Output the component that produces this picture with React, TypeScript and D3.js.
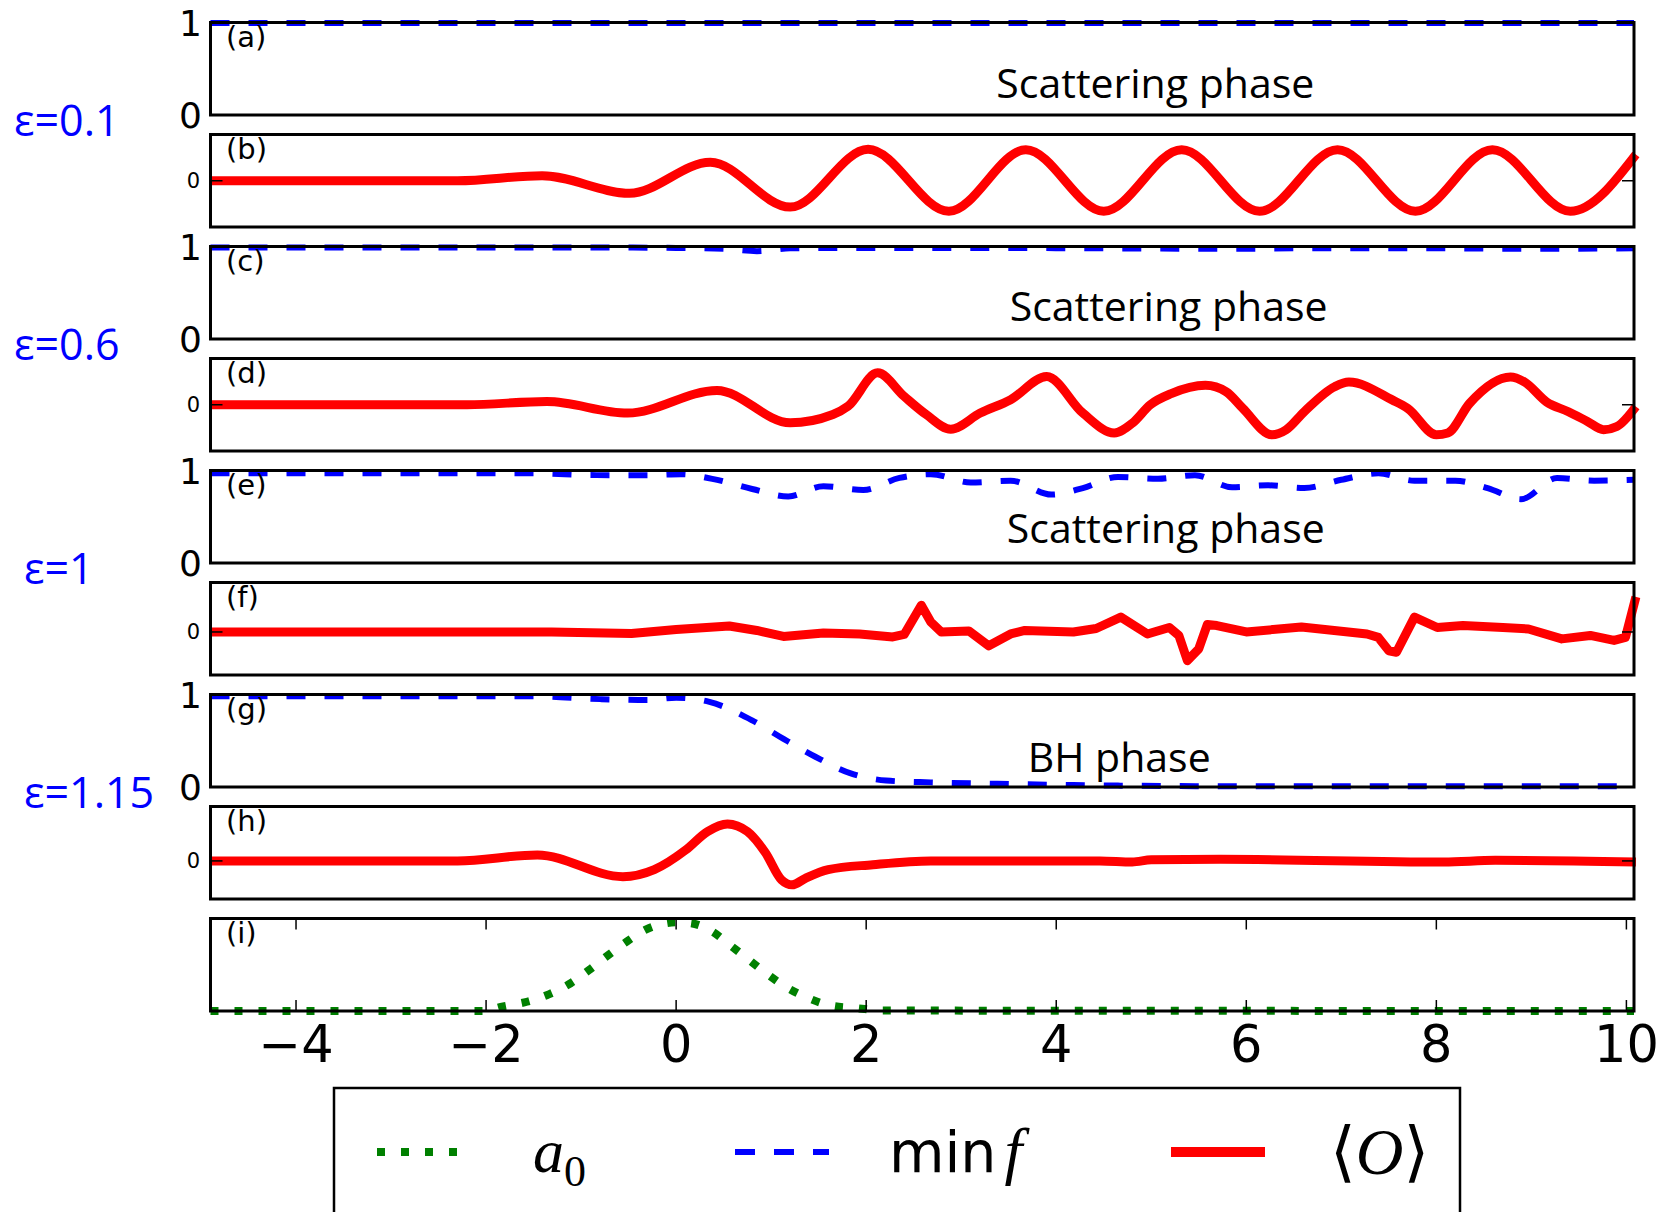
import React from "react";
import * as d3 from "d3";

// ---------- data ----------
const xDomain: [number, number] = [-4.9, 10.08];
const xTicks = [-4, -2, 0, 2, 4, 6, 8, 10];

// eps = 0.1
const minfX_01 = [-4.9, 10.08];
const minfY_01 = [0.995, 0.995];
const oX_01 = [-4.9, -2.3, -1.41, -0.49, 0.36, 1.2, 2.02, 2.87, 3.68, 4.5, 5.32, 6.14, 6.96, 7.78, 8.59, 9.41, 10.1];
const oY_01 = [0, 0, 0.11, -0.27, 0.4, -0.57, 0.68, -0.66, 0.67, -0.66, 0.67, -0.66, 0.67, -0.66, 0.67, -0.66, 0.57];

// eps = 0.6
const minfX_06 = [-4.9, -1, 0, 0.5, 0.85, 1.2, 1.8, 3, 4.5, 5.8, 6.5, 8, 9, 10.08];
const minfY_06 = [0.99, 0.99, 0.985, 0.975, 0.95, 0.98, 0.985, 0.985, 0.98, 0.975, 0.98, 0.98, 0.975, 0.98];
const oX_06 = [-4.9, -2.2, -1.36, -0.51, 0.43, 1.2, 1.65, 1.81, 2.12, 2.4, 2.63, 2.89, 3.2, 3.52, 3.9, 4.28, 4.61, 4.8, 4.99, 5.21, 5.57, 5.79, 5.96, 6.27, 6.42, 6.61, 6.93, 7.08, 7.54, 7.7, 8.0, 8.12, 8.35, 8.78, 8.93, 9.16, 9.39, 9.59, 9.76, 9.9, 10.1];
const oY_06 = [0, 0, 0.07, -0.18, 0.31, -0.39, -0.21, -0.03, 0.69, 0.18, -0.21, -0.53, -0.18, 0.11, 0.61, -0.18, -0.61, -0.4, 0, 0.24, 0.42, 0.28, -0.07, -0.65, -0.54, -0.15, 0.39, 0.49, 0.1, -0.08, -0.65, -0.61, 0.03, 0.6, 0.49, 0.06, -0.15, -0.36, -0.54, -0.47, -0.04];

// eps = 1
const minfX_1 = [-4.9, -1.5, -0.84, -0.28, 0.05, 0.38, 0.8, 1.18, 1.55, 1.97, 2.35, 2.68, 3.1, 3.52, 3.95, 4.28, 4.65, 5.07, 5.46, 5.85, 6.23, 6.61, 7.0, 7.39, 7.77, 8.2, 8.54, 8.89, 9.27, 9.66, 10.08];
const minfY_1 = [0.97, 0.97, 0.95, 0.95, 0.96, 0.91, 0.8, 0.72, 0.83, 0.79, 0.92, 0.96, 0.87, 0.89, 0.74, 0.81, 0.93, 0.91, 0.95, 0.82, 0.84, 0.81, 0.9, 0.97, 0.89, 0.89, 0.81, 0.69, 0.92, 0.89, 0.9];
const oX_1 = [-4.9, -1.31, -0.47, 0.0, 0.56, 0.85, 1.13, 1.55, 1.93, 2.28, 2.4, 2.58, 2.68, 2.79, 3.08, 3.29, 3.52, 3.67, 4.18, 4.42, 4.68, 4.96, 5.19, 5.29, 5.38, 5.5, 5.59, 5.69, 6.0, 6.58, 7.27, 7.39, 7.5, 7.58, 7.77, 8.01, 8.28, 8.7, 8.97, 9.32, 9.62, 9.87, 9.99, 10.1];
const oY_1 = [0, 0, -0.03, 0.05, 0.12, 0.03, -0.09, -0.02, -0.04, -0.1, -0.05, 0.54, 0.2, 0, 0.02, -0.28, -0.04, 0.03, 0, 0.07, 0.3, -0.04, 0.09, -0.07, -0.58, -0.34, 0.15, 0.13, 0, 0.1, -0.04, -0.11, -0.38, -0.41, 0.3, 0.09, 0.13, 0.09, 0.06, -0.14, -0.07, -0.17, -0.11, 0.71];

// eps = 1.15
const minfX_115 = [-4.9, -1.5, -0.8, -0.3, 0.0, 0.35, 0.8, 1.13, 1.46, 1.83, 2.21, 2.68, 3.38, 4.65, 6, 8, 10.08];
const minfY_115 = [0.98, 0.98, 0.95, 0.94, 0.965, 0.92, 0.72, 0.52, 0.33, 0.15, 0.07, 0.05, 0.035, 0.015, 0.008, 0.008, 0.008];
const oX_115 = [-4.9, -2.3, -1.46, -0.56, -0.23, 0.1, 0.33, 0.54, 0.75, 0.94, 1.11, 1.22, 1.36, 1.6, 2.07, 2.68, 4.46, 4.8, 5.0, 5.73, 8.08, 8.62, 10.1];
const oY_115 = [0, 0, 0.11, -0.29, -0.16, 0.2, 0.54, 0.68, 0.54, 0.15, -0.35, -0.44, -0.32, -0.16, -0.07, 0, 0, -0.02, 0.02, 0.03, -0.02, 0.01, -0.02];

// source a0
const a0X = [-4.9, -2.04, -1.82, -1.57, -1.34, -1.11, -0.92, -0.72, -0.52, -0.32, -0.1, 0.0, 0.15, 0.38, 0.57, 0.77, 0.97, 1.17, 1.39, 1.62, 1.9, 2.18, 10.08];
const a0Y = [0, 0, 0.05, 0.1, 0.18, 0.3, 0.44, 0.6, 0.75, 0.88, 0.95, 0.96, 0.95, 0.86, 0.71, 0.55, 0.39, 0.25, 0.14, 0.06, 0.03, 0.005, 0];

const epsLabels = ["ε=0.1", "ε=0.6", "ε=1", "ε=1.15"];
const panelLetters = ["(a)", "(b)", "(c)", "(d)", "(e)", "(f)", "(g)", "(h)", "(i)"];
const phaseLabels = ["Scattering phase", "Scattering phase", "Scattering phase", "BH phase"];
const phaseLabelX = [3.37, 3.51, 3.48, 3.7];
const phaseLabelY = [0.18, 0.2, 0.22, 0.16];

// ---------- layout ----------
const W = 1675;
const H = 1212;
const LEFT = 210.5;
const RIGHT = 1634;
const TOP0 = 22.5;
const STEP = 112;
const PH = 92.5;

const RED = "#ff0000";
const BLUE = "#0000ff";
const GREEN = "#008000";

type Panel = {
  kind: "minf" | "O" | "a0";
  xs: number[];
  ys: number[];
  domain: [number, number];
  curve: d3.CurveFactory;
};

const panels: Panel[] = [
  { kind: "minf", xs: minfX_01, ys: minfY_01, domain: [0, 1], curve: d3.curveMonotoneX },
  { kind: "O", xs: oX_01, ys: oY_01, domain: [-1, 1], curve: d3.curveMonotoneX },
  { kind: "minf", xs: minfX_06, ys: minfY_06, domain: [0, 1], curve: d3.curveMonotoneX },
  { kind: "O", xs: oX_06, ys: oY_06, domain: [-1, 1], curve: d3.curveMonotoneX },
  { kind: "minf", xs: minfX_1, ys: minfY_1, domain: [0, 1], curve: d3.curveMonotoneX },
  { kind: "O", xs: oX_1, ys: oY_1, domain: [-0.87, 1], curve: d3.curveLinear },
  { kind: "minf", xs: minfX_115, ys: minfY_115, domain: [0, 1], curve: d3.curveMonotoneX },
  { kind: "O", xs: oX_115, ys: oY_115, domain: [-0.7, 1], curve: d3.curveMonotoneX },
  { kind: "a0", xs: a0X, ys: a0Y, domain: [0, 1], curve: d3.curveMonotoneX },
];

const x = d3.scaleLinear().domain(xDomain).range([LEFT, RIGHT]);

function styleFor(kind: Panel["kind"]) {
  if (kind === "O") return { stroke: RED, width: 9, dash: undefined as string | undefined };
  if (kind === "minf") return { stroke: BLUE, width: 6, dash: "19 19" };
  return { stroke: GREEN, width: 8, dash: "8 16" };
}

export default function App() {
  return (
    <svg
      width={W}
      height={H}
      viewBox={`0 0 ${W} ${H}`}
      style={{ position: "absolute", left: 0, top: 0, background: "#fff" }}
    >
      <rect x={0} y={0} width={W} height={H} fill="#fff" />
      {panels.map((p, i) => {
        const top = TOP0 + i * STEP;
        const bottom = top + PH;
        const y = d3.scaleLinear().domain(p.domain).range([bottom, top]);
        const pts: [number, number][] = p.xs.map((xv, k) => [xv, p.ys[k]]);
        const line = d3
          .line<[number, number]>()
          .x((d) => x(d[0]))
          .y((d) => y(d[1]))
          .curve(p.curve);
        const st = styleFor(p.kind);
        const pairIdx = Math.floor(i / 2);
        return (
          <g key={i}>
            <path
              d={line(pts) || ""}
              fill="none"
              stroke={st.stroke}
              strokeWidth={st.width}
              strokeDasharray={st.dash}
              strokeLinejoin="round"
              strokeLinecap="butt"
            />
            {p.kind === "O" && (
              <g>
                <line x1={LEFT} x2={LEFT + 12} y1={y(0)} y2={y(0)} stroke="#000" strokeWidth={1.5} />
                <line x1={RIGHT - 12} x2={RIGHT} y1={y(0)} y2={y(0)} stroke="#000" strokeWidth={1.5} />
                <text x={200} y={y(0) + 7.5} fontFamily="DejaVu Sans" fontSize={21} textAnchor="end">
                  0
                </text>
              </g>
            )}
            {p.kind === "minf" && (
              <g fontFamily="DejaVu Sans" fontSize={36} textAnchor="end">
                <text x={202} y={y(1) + 13}>1</text>
                <text x={202} y={y(0) + 13}>0</text>
              </g>
            )}
            {p.kind === "a0" && (
              <g>
                {xTicks.map((t) => (
                  <g key={t}>
                    <line x1={x(t)} x2={x(t)} y1={bottom} y2={bottom - 11} stroke="#000" strokeWidth={1.5} />
                    <line x1={x(t)} x2={x(t)} y1={top} y2={top + 11} stroke="#000" strokeWidth={1.5} />
                    <text
                      x={x(t)}
                      y={1062}
                      fontFamily="DejaVu Sans"
                      fontSize={51}
                      textAnchor="middle"
                    >
                      {t < 0 ? `\u2212${Math.abs(t)}` : `${t}`}
                    </text>
                  </g>
                ))}
              </g>
            )}
            <rect
              x={LEFT}
              y={top}
              width={RIGHT - LEFT}
              height={PH}
              fill="none"
              stroke="#000"
              strokeWidth={3}
            />
            <text x={226} y={top + 24} fontFamily="DejaVu Sans" fontSize={29}>
              {panelLetters[i]}
            </text>
            {p.kind === "minf" && (
              <text
                x={x(phaseLabelX[pairIdx])}
                y={y(phaseLabelY[pairIdx])}
                fontFamily="Open Sans"
                fontSize={41}
              >
                {phaseLabels[pairIdx]}
              </text>
            )}
            {p.kind === "minf" && (
              <text
                x={pairIdx < 2 ? 14 : 24}
                y={bottom + 21}
                fontFamily="Open Sans"
                fontSize={43}
                fill={BLUE}
              >
                {epsLabels[pairIdx]}
              </text>
            )}
          </g>
        );
      })}

      {/* legend */}
      <g>
        <rect x={334} y={1088} width={1126} height={200} fill="none" stroke="#000" strokeWidth={2.5} />
        <line x1={377} x2={471} y1={1152} y2={1152} stroke={GREEN} strokeWidth={8} strokeDasharray="8 16" />
        <text x={533} y={1172} fontFamily="Liberation Serif" fontSize={62}>
          <tspan fontStyle="italic">a</tspan>
          <tspan fontSize={44} dy={14}>0</tspan>
        </text>
        <line x1={735} x2={829} y1={1152} y2={1152} stroke={BLUE} strokeWidth={6} strokeDasharray="20 19" />
        <text x={889} y={1172} fontFamily="DejaVu Sans" fontSize={57}>
          min
          <tspan fontFamily="Liberation Serif" fontStyle="italic" fontSize={64} dx={8}>f</tspan>
        </text>
        <line x1={1171} x2={1265} y1={1152} y2={1152} stroke={RED} strokeWidth={10} />
        <text x={1330} y={1174} fontSize={66}>
          <tspan fontFamily="DejaVu Sans">⟨</tspan>
          <tspan fontFamily="Liberation Serif" fontStyle="italic">O</tspan>
          <tspan fontFamily="DejaVu Sans">⟩</tspan>
        </text>
      </g>
    </svg>
  );
}
